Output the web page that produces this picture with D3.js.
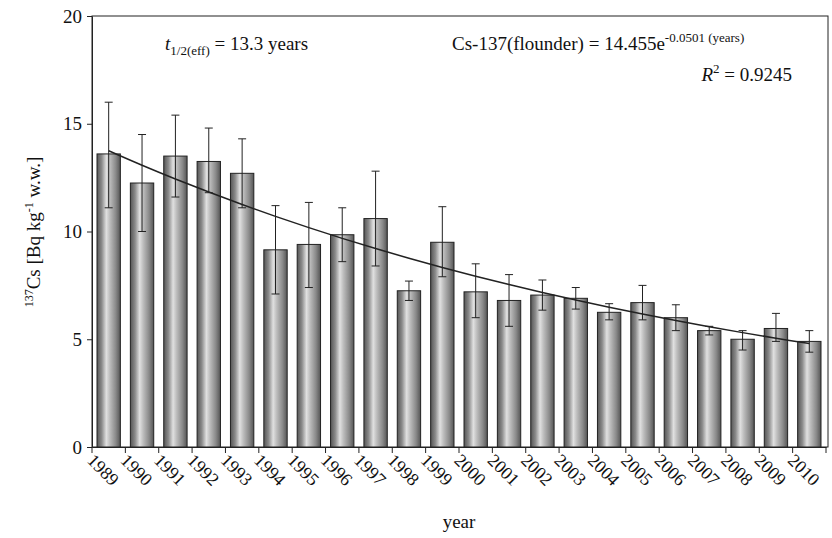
<!DOCTYPE html><html><head><meta charset="utf-8"><script src="https://d3js.org/d3.v7.min.js"></script>
<style>body{margin:0;background:#fff}svg text,svg tspan{font-family:"Liberation Serif","Times New Roman",serif !important;fill:#111}</style></head><body>
<svg id="c" width="832" height="538"></svg>
<script>
const years=["1989","1990","1991","1992","1993","1994","1995","1996","1997","1998","1999","2000","2001","2002","2003","2004","2005","2006","2007","2008","2009","2010"];
const values=[13.6,12.25,13.5,13.25,12.7,9.15,9.4,9.85,10.6,7.25,9.5,7.2,6.8,7.05,6.9,6.25,6.7,6.0,5.4,5.0,5.5,4.9];
const errLow=[11.1,10.0,11.6,11.8,11.1,7.1,7.4,8.6,8.4,6.8,7.9,6.0,5.6,6.35,6.4,5.9,5.9,5.4,5.2,4.5,4.9,4.4];
const errHigh=[16.0,14.5,15.4,14.8,14.3,11.2,11.35,11.1,12.8,7.7,11.15,8.5,8.0,7.75,7.4,6.65,7.5,6.6,5.6,5.4,6.2,5.4];
const yTicks=[0,5,10,15,20];
const fitA=14.455, fitK=-0.0501;
const svg=d3.select("#c");
const L=92,R=826,T=16,B=447;
const x=d3.scaleBand().domain(years).range([L,R]).paddingInner(0.3).paddingOuter(0.15);
const xb=d3.scaleBand().domain(years).range([L,R]);
const y=d3.scaleLinear().domain([0,20]).range([B,T]);
const g=svg.append("defs").append("linearGradient").attr("id","gr");
[[0,"#555"],[0.2,"#8a8a8a"],[0.4,"#e0e0e0"],[0.55,"#bdbdbd"],[0.8,"#8a8a8a"],[1,"#555"]].forEach(s=>g.append("stop").attr("offset",s[0]).attr("stop-color",s[1]));
svg.append("rect").attr("x",L).attr("y",T).attr("width",828-L).attr("height",B-T).attr("fill","none").attr("stroke","#222");
svg.selectAll(".bar").data(years).join("rect").attr("x",d=>x(d)).attr("width",x.bandwidth())
 .attr("y",(d,i)=>y(values[i])).attr("height",(d,i)=>B-y(values[i])).attr("fill","url(#gr)").attr("stroke","#222").attr("stroke-width",1);
years.forEach((d,i)=>{const cx=x(d)+x.bandwidth()/2;
 svg.append("line").attr("x1",cx).attr("x2",cx).attr("y1",y(errLow[i])).attr("y2",y(errHigh[i])).attr("stroke","#222");
 [errLow[i],errHigh[i]].forEach(v=>svg.append("line").attr("x1",cx-4).attr("x2",cx+4).attr("y1",y(v)).attr("y2",y(v)).attr("stroke","#222"));});
const fit=years.map((d,i)=>[x(d)+x.bandwidth()/2,y(fitA*Math.exp(fitK*(i+1)))]);
svg.append("path").attr("d",d3.line().curve(d3.curveCatmullRom)(fit)).attr("fill","none").attr("stroke","#222").attr("stroke-width",1.5);
const ya=svg.append("g").attr("transform",`translate(${L},0)`).call(d3.axisLeft(y).tickValues(yTicks).tickSize(5).tickSizeOuter(0));
ya.selectAll("text").style("font-size","19px").attr("dx","-2");
const xa=svg.append("g").attr("transform",`translate(0,${B})`).call(d3.axisBottom(xb).tickSize(6).tickSizeOuter(0));
xa.selectAll(".tick line").attr("transform",`translate(${-xb.bandwidth()/2},0)`);
xa.selectAll("text").style("font-size","18px").attr("text-anchor","start").attr("transform","translate(-12,4) rotate(45)").attr("dy","0.6em").attr("y",4);
svg.selectAll(".domain,.tick line").attr("stroke","#222");
svg.append("line").attr("x1",R).attr("x2",R).attr("y1",B).attr("y2",B+6).attr("stroke","#222");
svg.append("text").attr("x",459).attr("y",528).attr("text-anchor","middle").style("font-size","19px").text("year");
const yl=svg.append("text").attr("transform","translate(40,232) rotate(-90)").attr("text-anchor","middle").style("font-size","19px");
yl.append("tspan").attr("dy","-7").style("font-size","12px").text("137");
yl.append("tspan").attr("dy","7").text("Cs [Bq kg");
yl.append("tspan").attr("dy","-7").style("font-size","12px").text("-1");
yl.append("tspan").attr("dy","7").text(" w.w.]");
const t1=svg.append("text").attr("x",165).attr("y",50).style("font-size","19px");
t1.append("tspan").style("font-style","italic").text("t");
t1.append("tspan").attr("dy","5").style("font-size","13px").text("1/2(eff)");
t1.append("tspan").attr("dy","-5").text(" = 13.3 years");
const t2=svg.append("text").attr("x",452).attr("y",50).style("font-size","19px");
t2.append("tspan").text("Cs-137(flounder) = 14.455e");
t2.append("tspan").attr("dy","-8").style("font-size","13px").text("-0.0501 (years)");
const t3=svg.append("text").attr("x",792).attr("y",81).attr("text-anchor","end").style("font-size","19px");
t3.append("tspan").style("font-style","italic").text("R");
t3.append("tspan").attr("dy","-8").style("font-size","13px").text("2");
t3.append("tspan").attr("dy","8").text(" = 0.9245");
</script></body></html>
